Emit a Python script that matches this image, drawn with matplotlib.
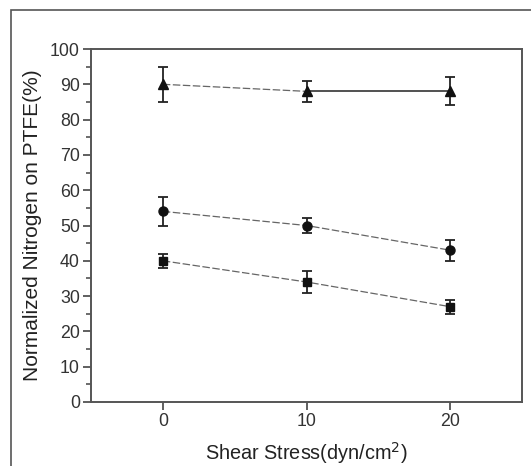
# normalized nitrogen on PTFE vs shear stress
import matplotlib.pyplot as plt
from matplotlib.patches import Rectangle
from matplotlib.ticker import MultipleLocator

plt.rcParams['font.family'] = ['Liberation Sans', 'DejaVu Sans']

shear = [0, 10, 20]
tri = [90, 88, 88]
tri_err = [5, 3, 4]
circ = [54, 50, 43]
circ_err = [4, 2, 3]
sq = [40, 34, 27]
sq_err = [2, 3, 2]

fig = plt.figure(figsize=(5.31, 4.66), dpi=100)
ax = fig.add_axes([91 / 531, 1 - 402 / 466, (522 - 91) / 531, (402 - 49) / 466])

# outer frame of the original figure
fig.patches.append(Rectangle((11 / 531, -0.1), 1.2, 1 - 10 / 466 + 0.1,
                             transform=fig.transFigure, fill=False,
                             edgecolor='#555555', linewidth=1.2))

dash = dict(color='#666666', linewidth=0.9, linestyle=(0, (6, 2)))
# triangle series: first segment dashed, second solid
ax.plot(shear[:2], tri[:2], **dash)
ax.plot(shear[1:], tri[1:], color='#222222', linewidth=1.1)
ax.plot(shear, circ, **dash)
ax.plot(shear, sq, **dash)

eb = dict(linestyle='none', color='#111111', ecolor='#222222', elinewidth=1.3,
          capsize=3.5, capthick=1.3, markersize=6.5)
ax.errorbar(shear, tri, yerr=tri_err, marker='^', **eb)
ax.errorbar(shear, circ, yerr=circ_err, marker='o', **eb)
ax.errorbar(shear, sq, yerr=sq_err, marker='s', **dict(eb, markersize=5.5))

ax.set_xlim(-5, 25)
ax.set_ylim(0, 100)
ax.set_xticks(shear)
ax.yaxis.set_major_locator(MultipleLocator(10))
ax.yaxis.set_minor_locator(MultipleLocator(5))
ax.tick_params(axis='both', which='major', direction='out', length=5.5, width=1.2,
               colors='#444444', labelcolor='#333333', labelsize=12.8, pad=2.5)
ax.tick_params(axis='y', which='minor', direction='out', length=3.5, width=1.1, colors='#444444')
ax.tick_params(top=False, right=False)
for s in ax.spines.values():
    s.set_color('#555555')
    s.set_linewidth(1.4)

ax.set_xlabel('Shear Stress(dyn/cm$^2$)', fontsize=14.3, color='#222222')
ax.set_ylabel('Normalized Nitrogen on PTFE(%)', fontsize=15, color='#222222')
ax.yaxis.set_label_coords((42 - 91) / 431, 0.5)
ax.xaxis.set_label_coords(0.5, (402 - 440) / 353)

plt.savefig('out.png', dpi=100)
